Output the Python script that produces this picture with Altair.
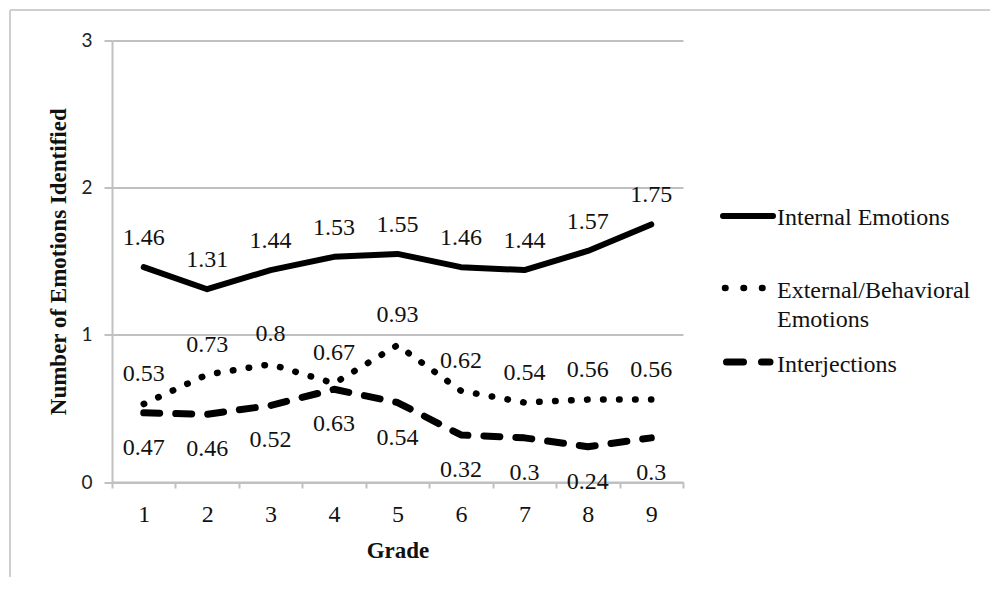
import altair as alt
import pandas as pd

# ---- data ----
grades = [1, 2, 3, 4, 5, 6, 7, 8, 9]
series_names = ["Internal Emotions", "External/Behavioral Emotions", "Interjections"]
internal = [1.46, 1.31, 1.44, 1.53, 1.55, 1.46, 1.44, 1.57, 1.75]
external = [0.53, 0.73, 0.80, 0.67, 0.93, 0.62, 0.54, 0.56, 0.56]
interjections = [0.47, 0.46, 0.52, 0.63, 0.54, 0.32, 0.30, 0.24, 0.30]
y_ticks = [0, 1, 2, 3]
legend_labels = ["Internal Emotions", "External/Behavioral\nEmotions", "Interjections"]

rows = []
for name, vals in zip(series_names, [internal, external, interjections]):
    for g, v in zip(grades, vals):
        rows.append({"Grade": str(g), "Series": name, "Value": v})
df = pd.DataFrame(rows)

W, H = 571, 441.5
GRID = "#c0c0c0"
SERIF = "Liberation Serif"
TXT = "#111111"

x_enc = alt.X(
    "Grade:O",
    sort=[str(g) for g in grades],
    bandPosition=0.5,
    scale=alt.Scale(type="band", paddingInner=0, paddingOuter=0),
    axis=alt.Axis(
        title="Grade", labelAngle=0, tickBand="extent", grid=False,
        domainColor=GRID, domainWidth=2, tickColor=GRID, tickWidth=2, tickSize=6,
        labelFont=SERIF, labelFontSize=24, labelColor=TXT,
        labelBaseline="alphabetic", labelPadding=33.5,
        titleFont=SERIF, titleFontWeight="bold", titleFontSize=23, titleColor=TXT,
        titleBaseline="alphabetic", titleY=75, titleX=W / 2,
    ),
)
y_enc = alt.Y(
    "Value:Q",
    scale=alt.Scale(domain=[0, 3], nice=False, zero=True),
    axis=alt.Axis(
        values=y_ticks, title="Number of Emotions Identified", grid=True,
        gridColor=GRID, gridWidth=2, domainColor=GRID, domainWidth=2,
        tickColor=GRID, tickWidth=2, tickSize=8,
        labelFont="Lato", labelFontSize=19, labelPadding=12, labelColor="#222222",
        titleFont=SERIF, titleFontWeight="bold", titleFontSize=23, titleColor=TXT,
        titleAngle=270, titleX=-54, titleY=H / 2, titleBaseline="middle", titleAlign="center",
    ),
)

base = alt.Chart(df)


def line_layer(name, width, dash=None):
    kw = dict(color="black", strokeWidth=width, strokeCap="round", strokeJoin="round")
    if dash is not None:
        kw["strokeDash"] = dash
    return base.transform_filter(alt.datum.Series == name).mark_line(**kw).encode(x=x_enc, y=y_enc)


def label_layer(name, dy):
    return base.transform_filter(alt.datum.Series == name).mark_text(
        dy=dy, font=SERIF, fontSize=24, baseline="middle", color=TXT
    ).encode(x=x_enc, y=y_enc, text=alt.Text("Value:Q", format="~g"))


layers = [
    line_layer(series_names[0], 6),
    line_layer(series_names[1], 6.5, [0.5, 15.5]),
    line_layer(series_names[2], 7, [16, 16]),
    label_layer(series_names[0], -29),
    label_layer(series_names[1], -30),
    label_layer(series_names[2], 35),
]

# ---- legend (drawn) ----
one = alt.Chart(pd.DataFrame({"k": [0]}))
leg_sym = [
    dict(x=611, x2=661, y=175.5, w=6),
    dict(x=613, x2=651, y=247.5, w=6.5, dash=[0.5, 18]),
    dict(x=614.5, x2=658, y=321.5, w=7, dash=[17, 18]),
]
leg_txt_y = [184.5, 257.5, 331.5]
for s, lbl, ty in zip(leg_sym, legend_labels, leg_txt_y):
    kw = dict(color="black", strokeWidth=s["w"], strokeCap="round")
    if "dash" in s:
        kw["strokeDash"] = s["dash"]
    layers.append(one.mark_rule(**kw).encode(
        x=alt.value(s["x"]), x2=alt.value(s["x2"]), y=alt.value(s["y"])))
    layers.append(one.mark_text(
        align="left", baseline="alphabetic", font=SERIF, fontSize=24, color=TXT,
        lineHeight=29, text=lbl.split("\n") if "\n" in lbl else lbl,
    ).encode(x=alt.value(665), y=alt.value(ty)))

# ---- frame ----
layers.append(one.mark_rule(color="#cfcfcf", strokeWidth=2).encode(
    x=alt.value(-102), y=alt.value(-30.5), y2=alt.value(560)))
layers.append(one.mark_rule(color="#cfcfcf", strokeWidth=2).encode(
    x=alt.value(-102), x2=alt.value(900), y=alt.value(-30.5)))

chart = alt.layer(*layers).properties(
    width=W, height=H,
    padding={"left": 104, "top": 32.5, "right": 307, "bottom": 95},
    autosize=alt.AutoSizeParams(type="none"),
).configure_view(stroke=None)

chart.save("out.html", embed_options={"renderer": "svg", "actions": False})
